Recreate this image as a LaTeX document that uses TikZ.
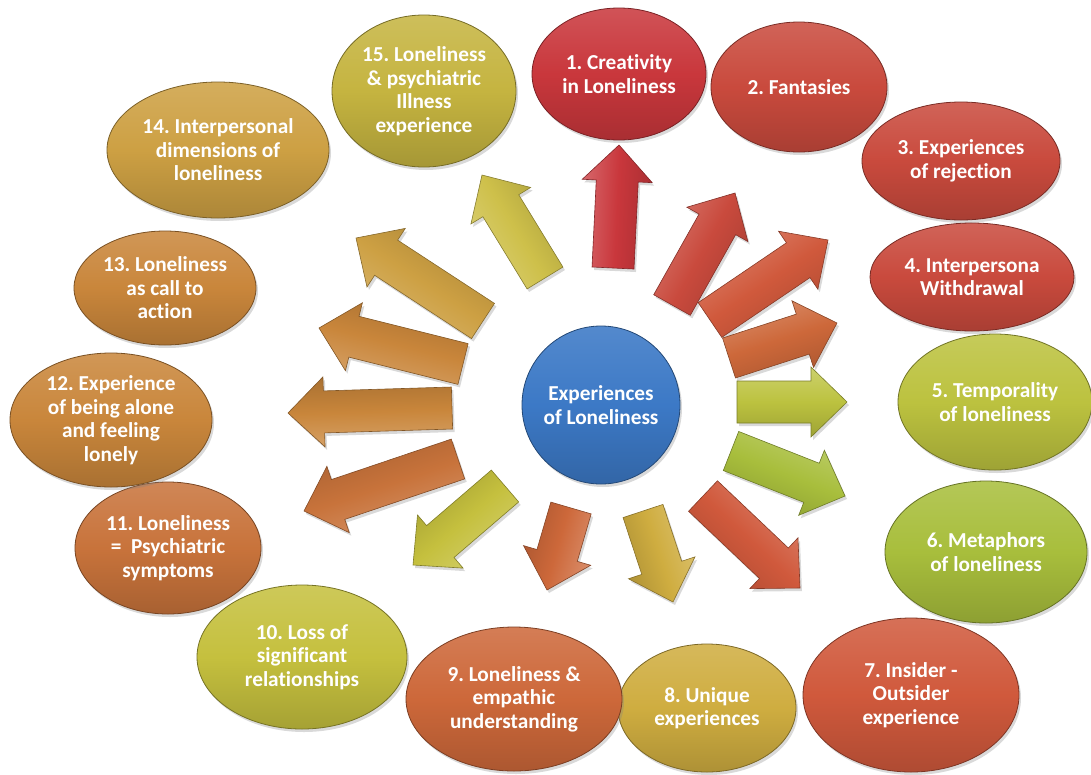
\documentclass[tikz,border=0pt]{standalone}
\usepackage{fontspec}
\setmainfont{Carlito}[Ligatures=NoCommon]
\usepackage{xcolor}
\usepackage{tikz}
\usetikzlibrary{calc,shapes.geometric,shadows}
\frenchspacing
\definecolor{crimson}{HTML}{C9373C}
\definecolor{brick}{HTML}{C94A3D}
\definecolor{rust}{HTML}{D0593C}
\definecolor{tangerine}{HTML}{CD683A}
\definecolor{lime}{HTML}{BCC23F}
\definecolor{apple}{HTML}{A8BE3C}
\definecolor{gold}{HTML}{CFAD40}
\definecolor{olive}{HTML}{C5C03E}
\definecolor{straw}{HTML}{CEC04A}
\definecolor{copper}{HTML}{C8733B}
\definecolor{ochre}{HTML}{C9863B}
\definecolor{amber}{HTML}{CDA043}
\definecolor{khaki}{HTML}{C5B440}
\definecolor{sky}{HTML}{3C79C6}
\tikzset{
  lab/.style={text=white, align=center, font=\bfseries\fontsize{21.3}{23.5}\selectfont},
  soft/.style={drop shadow={opacity=0.3, shadow xshift=2pt, shadow yshift=-3pt}},
  bubble/.style={ellipse, lab, inner sep=0pt, soft, draw=#1!60!black, line width=0.8pt,
    top color=#1!86!white, bottom color=#1!84!black, middle color=#1},
  hub/.style={circle, lab, inner sep=0pt, minimum size=158pt, soft, draw=sky!60!black,
    line width=0.8pt, top color=sky!88!white, bottom color=sky!84!black, middle color=sky},
  arrowbody/.style={soft, draw=#1!65!black, line width=0.6pt,
    top color=#1!76!white, bottom color=#1!84!black, middle color=#1},
}
% block arrow from #1 to #2 filled with #3
\newcommand\blockarr[3]{%
  \coordinate (hb) at ($(#2)!36pt!(#1)$);
  \pgfmathanglebetweenpoints{\pgfpointanchor{#1}{center}}{\pgfpointanchor{#2}{center}}%
  \let\arrang\pgfmathresult
  \path[arrowbody=#3, shading angle=\arrang]
    ($(#1)!21pt!90:(#2)$) -- ($(hb)!21pt!90:(#2)$) -- ($(hb)!35pt!90:(#2)$) -- (#2)
    -- ($(hb)!35pt!-90:(#2)$) -- ($(hb)!21pt!-90:(#2)$) -- ($(#1)!21pt!-90:(#2)$) -- cycle;
}

\begin{document}
\begin{tikzpicture}[x=1pt,y=-1pt]
  \useasboundingbox (0,0) rectangle (1091,774);

  \node[hub] (hub) at (601,405) {Experiences\\of Loneliness};

  \node[bubble=crimson, minimum width=174pt, minimum height=132pt] (e1) at (619,74) {1. Creativity\\in Loneliness};
  \node[bubble=brick, minimum width=176pt, minimum height=130pt] (e2) at (799,87) {2. Fantasies};
  \node[bubble=brick, minimum width=198pt, minimum height=118pt] (e3) at (961,161) {3. Experiences\\of rejection};
  \node[bubble=brick, minimum width=204pt, minimum height=108pt] (e4) at (972,277) {4. Interpersona\\Withdrawal};
  \node[bubble=lime, minimum width=194pt, minimum height=136pt] (e5) at (995,402) {5. Temporality\\of loneliness};
  \node[bubble=apple, minimum width=202pt, minimum height=142pt] (e6) at (986,552) {6. Metaphors\\of loneliness};
  \node[bubble=rust, minimum width=216pt, minimum height=154pt] (e7) at (911,695) {7. Insider -\\Outsider\\experience};
  \node[bubble=gold, minimum width=178pt, minimum height=128pt] (e8) at (707,708) {8. Unique\\experiences};
  \node[bubble=tangerine, minimum width=216pt, minimum height=144pt] (e9) at (514,699) {9. Loneliness \&\\empathic\\understanding};
  \node[bubble=olive, minimum width=210pt, minimum height=144pt] (e10) at (302,657) {10. Loss of\\significant\\relationships};
  \node[bubble=copper, minimum width=186pt, minimum height=132pt] (e11) at (168,548) {11. Loneliness\\=\ \ Psychiatric\\symptoms};
  \node[bubble=ochre, minimum width=202pt, minimum height=134pt] (e12) at (111,420) {12. Experience\\of being alone\\and feeling\\lonely};
  \node[bubble=ochre, minimum width=182pt, minimum height=114pt] (e13) at (165,288) {13. Loneliness\\as call to\\action};
  \node[bubble=amber, minimum width=222pt, minimum height=136pt] (e14) at (218,150) {14. Interpersonal\\dimensions of\\loneliness};
  \node[bubble=khaki, minimum width=184pt, minimum height=152pt] (e15) at (424,91) {15. Loneliness\\\& psychiatric\\Illness\\experience};

  \coordinate (b1) at (613,268);  \coordinate (t1) at (619,145);
  \coordinate (b2) at (672,305);  \coordinate (t2) at (735,193);
  \coordinate (b3) at (710,320);  \coordinate (t3) at (828,240);
  \coordinate (b4) at (729,358);  \coordinate (t4) at (837,323);
  \coordinate (b5) at (737,402);  \coordinate (t5) at (847,402);
  \coordinate (b6) at (731,451);  \coordinate (t6) at (845,496);
  \coordinate (b7) at (703,496);  \coordinate (t7) at (800,588);
  \coordinate (b8) at (643,511);  \coordinate (t8) at (673,602);
  \coordinate (b9) at (571,508);  \coordinate (t9) at (547,590);
  \coordinate (b10) at (505,486); \coordinate (t10) at (413,565);
  \coordinate (b11) at (458,459); \coordinate (t11) at (304,511);
  \coordinate (b12) at (452,408); \coordinate (t12) at (288,413);
  \coordinate (b13) at (463,364); \coordinate (t13) at (319,328);
  \coordinate (b14) at (483,321); \coordinate (t14) at (356,238);
  \coordinate (b15) at (545,278); \coordinate (t15) at (482,175);

  \blockarr{b1}{t1}{crimson}
  \blockarr{b2}{t2}{brick}
  \blockarr{b3}{t3}{rust}
  \blockarr{b4}{t4}{tangerine}
  \blockarr{b5}{t5}{lime}
  \blockarr{b6}{t6}{apple}
  \blockarr{b7}{t7}{rust}
  \blockarr{b8}{t8}{gold}
  \blockarr{b9}{t9}{tangerine}
  \blockarr{b10}{t10}{olive}
  \blockarr{b11}{t11}{copper}
  \blockarr{b12}{t12}{ochre}
  \blockarr{b13}{t13}{ochre}
  \blockarr{b14}{t14}{amber}
  \blockarr{b15}{t15}{straw}
\end{tikzpicture}
\end{document}
